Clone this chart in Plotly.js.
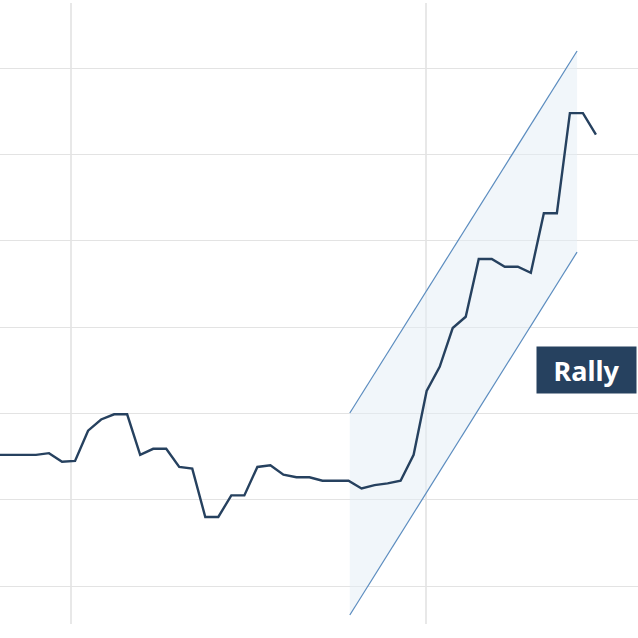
<!DOCTYPE html>
<html>
<head>
<meta charset="utf-8">
<script src="https://cdn.plot.ly/plotly-3.0.1.min.js"></script>
<style>html,body{margin:0;padding:0;background:#fff;}#chart{width:638px;height:638px;}</style>
</head>
<body>
<div id="chart"></div>
<script>
// Period index (x) and price values (y)
const periods = [0,1,2,3,4,5,6,7,8,9,10,11,12,13,14,15,16,17,18,19,20,21,22,23,24,25,26,27,28,29,30,31,32,33,34,35,36,37,38,39,40,41,42,43,44,45,46];
const prices = [55.2,55.2,55.2,55.2,55.4,54.4,54.5,58.0,59.3,59.9,59.9,55.2,55.9,55.9,53.8,53.6,48.0,48.0,50.5,50.5,53.8,54.0,52.9,52.6,52.6,52.2,52.2,52.2,51.3,51.7,51.9,52.2,55.2,62.6,65.4,69.9,71.2,77.9,77.9,77.0,77.0,76.3,83.2,83.2,94.8,94.8,92.3];

// Rally channel (start/end period, upper and lower bounds)
const channelX = [27.1, 44.55];
const channelUpper = [60.05, 102.0];
const channelLower = [36.64, 78.7];

// Gridline positions
const xGrid = [5.69, 32.95];
const yGrid = [40, 50, 60, 70, 80, 90, 100];

const annotationLabel = "Rally";

const navy = "#26415f";
const chanLine = "#5b8cbf";
const chanFill = "rgba(228,238,246,0.5)";

const traces = [
  {
    x: [channelX[0], channelX[1], channelX[1], channelX[0], channelX[0]],
    y: [channelLower[0], channelLower[1], channelUpper[1], channelUpper[0], channelLower[0]],
    mode: "lines", fill: "toself", fillcolor: chanFill,
    line: {width: 0, color: "rgba(0,0,0,0)"}, hoverinfo: "skip", showlegend: false
  },
  {
    x: channelX, y: channelUpper, mode: "lines",
    line: {color: chanLine, width: 1.2}, hoverinfo: "skip", showlegend: false
  },
  {
    x: channelX, y: channelLower, mode: "lines",
    line: {color: chanLine, width: 1.2}, hoverinfo: "skip", showlegend: false
  },
  {
    x: periods, y: prices, mode: "lines",
    line: {color: navy, width: 2.4}, showlegend: false
  }
];

const layout = {
  width: 638, height: 638,
  margin: {l: 0, r: 0, t: 3, b: 14, pad: 0},
  paper_bgcolor: "#ffffff", plot_bgcolor: "#ffffff",
  showlegend: false,
  xaxis: {
    range: [0.236, 49.23], tickmode: "array", tickvals: xGrid,
    showticklabels: false, ticks: "", showgrid: true, gridcolor: "#e8e8e8", gridwidth: 1.5,
    zeroline: false, showline: false
  },
  yaxis: {
    range: [35.6, 107.56], tickmode: "array", tickvals: yGrid,
    showticklabels: false, ticks: "", showgrid: true, gridcolor: "#e3e3e3", gridwidth: 1,
    zeroline: false, showline: false
  },
  annotations: [{
    text: "<b>" + annotationLabel + "</b>",
    xref: "paper", yref: "y", x: 1, xanchor: "right", xshift: -1,
    y: 65.0, yanchor: "middle",
    showarrow: false, bgcolor: navy, borderpad: 0,
    width: 99, height: 46,
    font: {family: "'Noto Sans', 'Open Sans', sans-serif", size: 27, color: "#ffffff"}
  }]
};

Plotly.newPlot("chart", traces, layout, {displayModeBar: false, staticPlot: true});
</script>
</body>
</html>
